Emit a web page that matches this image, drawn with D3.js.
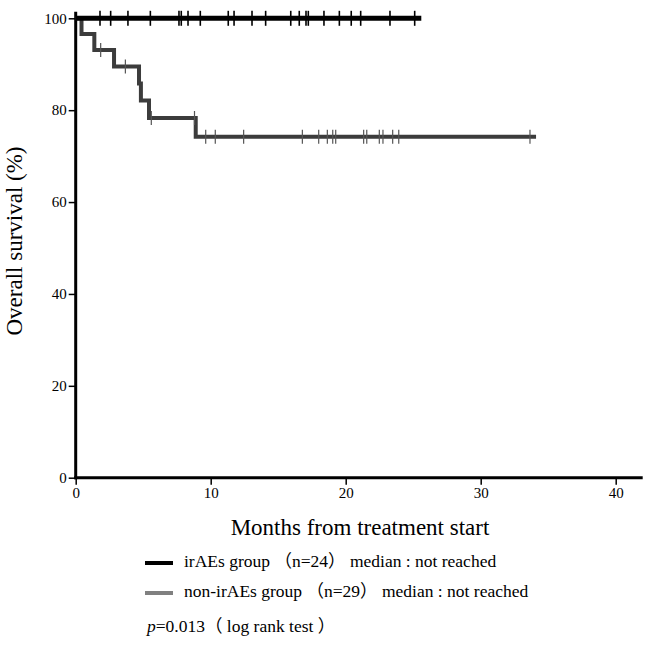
<!DOCTYPE html>
<html>
<head>
<meta charset="utf-8">
<script src="https://cdn.jsdelivr.net/npm/d3@7"></script>
<style>
  html, body { margin: 0; padding: 0; background: #fff; }
  svg { display: block; }
</style>
</head>
<body>
<svg id="chart" width="646" height="646"></svg>
<script>
// ---- data ----
const xTicks = [0, 10, 20, 30, 40];
const yTicks = [0, 20, 40, 60, 80, 100];

// irAEs group: no events, all censored
const irStepTimes = [0];
const irStepSurv = [100];
const irEnd = 25.6;
const irCensor = [1.8, 2.59, 3.87, 5.53, 7.65, 7.82, 8.32, 9.23, 11.3, 11.73, 13.06, 14.07,
                  15.93, 16.56, 17.06, 17.23, 18.39, 19.53, 20.41, 21.11, 23.28, 25.11];

// non-irAEs group
const nonStepTimes = [0, 0.43, 1.38, 2.84, 4.69, 4.83, 5.43, 8.89];
const nonStepSurv = [100, 96.6, 93.1, 89.5, 85.8, 82.1, 78.3, 74.2];
const nonEnd = 34.1;
const nonCensor = [1.85, 3.68, 5.6, 8.8, 9.63, 10.34, 12.44, 16.79, 18.0, 18.64, 19.04, 19.26,
                   21.33, 21.56, 22.49, 22.76, 23.48, 23.93, 33.65];

const legendLabels = [
  "irAEs group （n=24） median : not reached",
  "non-irAEs group （n=29） median : not reached"
];
const legendColors = ["#000000", "#808080"];

// ---- drawing ----
const SERIF = "'Liberation Serif', 'Times New Roman', 'DejaVu Serif', 'Noto Sans CJK SC', serif";
const svg = d3.select("#chart");
const x = d3.scaleLinear().domain([0, 42]).range([75.7, 642.7]);
const y = d3.scaleLinear().domain([0, 100]).range([477.7, 18.3]);

function stepAt(times, surv, t) {
  let v = surv[0];
  for (let i = 0; i < times.length; i++) if (times[i] <= t) v = surv[i];
  return v;
}

// axes
const xAxis = svg.append("g").attr("transform", `translate(0,${y(0)})`)
  .call(d3.axisBottom(x).tickValues(xTicks).tickSize(7).tickPadding(3).tickFormat(d3.format("d")));
xAxis.select(".domain").remove();
xAxis.selectAll(".tick line").attr("stroke", "#000").attr("stroke-width", 1.5);
xAxis.selectAll(".tick text").style("font-size", "15px").style("font-family", SERIF).attr("fill", "#000");

const yAxis = svg.append("g").attr("transform", `translate(${x(0)},0)`)
  .call(d3.axisLeft(y).tickValues(yTicks).tickSize(7).tickPadding(2).tickFormat(d3.format("d")));
yAxis.select(".domain").remove();
yAxis.selectAll(".tick line").attr("stroke", "#000").attr("stroke-width", 1.5);
yAxis.selectAll(".tick text").style("font-size", "15px").style("font-family", SERIF).attr("fill", "#000");

// axis lines
svg.append("line").attr("x1", x(0)).attr("x2", x(0)).attr("y1", y(0) + 1.5).attr("y2", y(101.4))
  .attr("stroke", "#000").attr("stroke-width", 3);
svg.append("line").attr("x1", x(0) - 1.5).attr("x2", x(42)).attr("y1", y(0)).attr("y2", y(0))
  .attr("stroke", "#000").attr("stroke-width", 3);

// curves
const line = d3.line().x(d => x(d[0])).y(d => y(d[1])).curve(d3.curveStepAfter);

function drawCurve(times, surv, end, censor, color, width, censorColor, censorW, censorH) {
  const pts = times.map((t, i) => [t, surv[i]]);
  pts.push([end, surv[surv.length - 1]]);
  svg.append("path").datum(pts).attr("d", line)
    .attr("fill", "none").attr("stroke", color).attr("stroke-width", width)
    .attr("stroke-linejoin", "miter").attr("stroke-linecap", "butt");
  svg.append("g").selectAll("line").data(censor).join("line")
    .attr("x1", d => x(d)).attr("x2", d => x(d))
    .attr("y1", d => y(stepAt(times, surv, d)) - censorH / 2)
    .attr("y2", d => y(stepAt(times, surv, d)) + censorH / 2)
    .attr("stroke", censorColor).attr("stroke-width", censorW);
}

drawCurve(nonStepTimes, nonStepSurv, nonEnd, nonCensor, "#3c3c3c", 4, "#555", 1.2, 14);
drawCurve(irStepTimes, irStepSurv, irEnd, irCensor, "#000", 5, "#000", 1.6, 15);

// axis titles
svg.append("text").attr("x", 360).attr("y", 535).attr("text-anchor", "middle")
  .style("font-family", SERIF).style("font-size", "23px").text("Months from treatment start");
svg.append("text").attr("transform", `translate(22,241) rotate(-90)`).attr("text-anchor", "middle")
  .style("font-family", SERIF).style("font-size", "23px").text("Overall survival (%)");

// legend
const legY = [567, 597];
legendLabels.forEach((lab, i) => {
  svg.append("line").attr("x1", 145).attr("x2", 173).attr("y1", legY[i] - 4).attr("y2", legY[i] - 4)
    .attr("stroke", legendColors[i]).attr("stroke-width", 4);
  svg.append("text").attr("x", 184).attr("y", legY[i])
    .style("font-family", SERIF).style("font-size", "17.5px").text(lab);
});
const pText = svg.append("text").attr("x", 147).attr("y", 632)
  .style("font-family", SERIF).style("font-size", "17.5px");
pText.append("tspan").attr("font-style", "italic").text("p");
pText.append("tspan").text("=0.013（ log rank test ）");
</script>
</body>
</html>
